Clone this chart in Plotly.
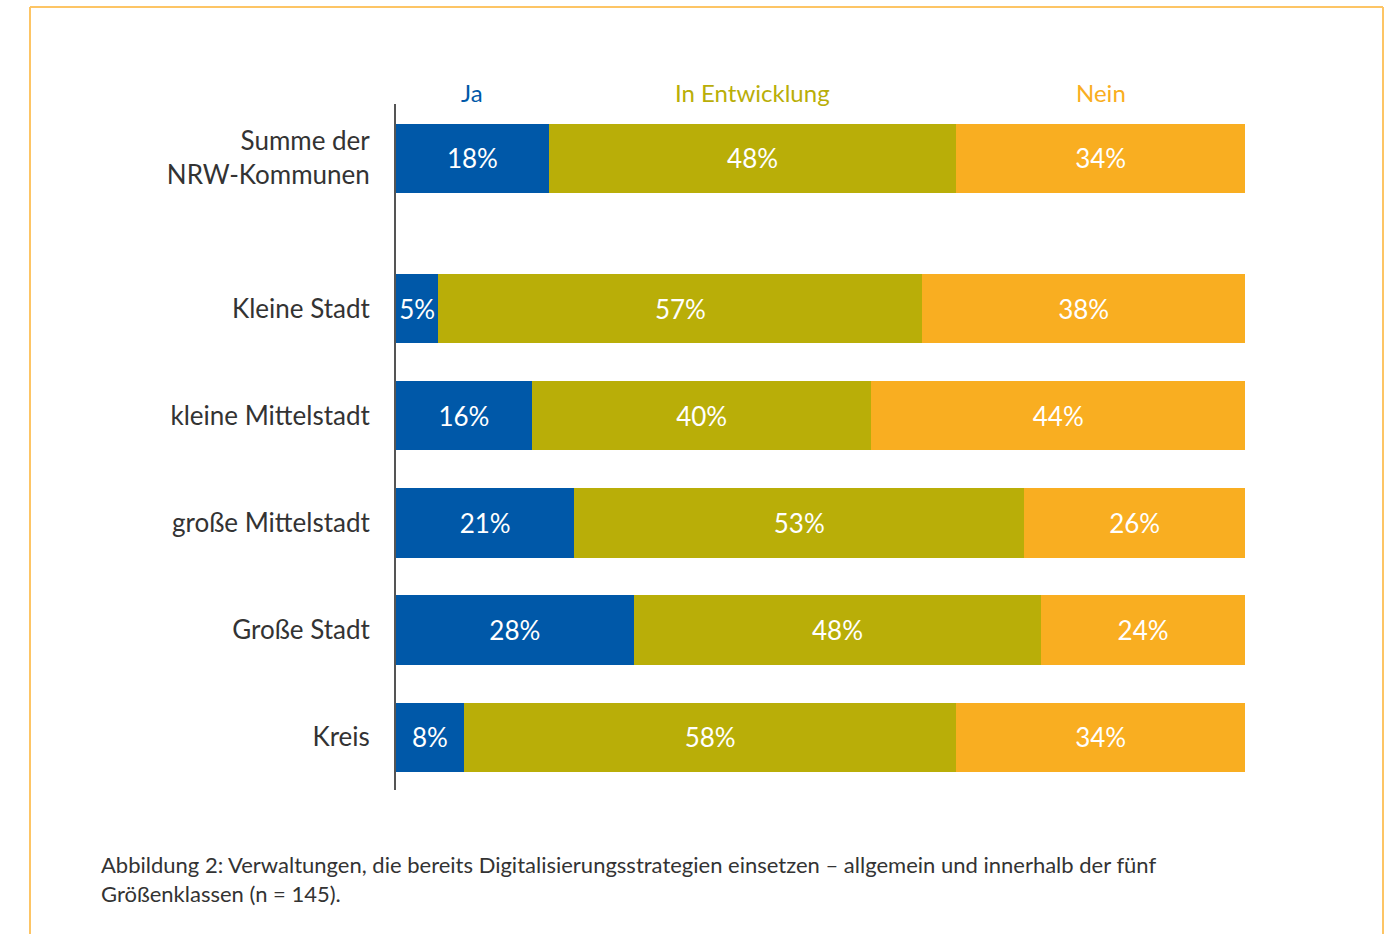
import plotly.graph_objects as go

# data
categories = ["Summe der<br>NRW-Kommunen", "Kleine Stadt", "kleine Mittelstadt",
              "große Mittelstadt", "Große Stadt", "Kreis"]
ja = [18, 5, 16, 21, 28, 8]
in_entwicklung = [48, 57, 40, 53, 48, 58]
nein = [34, 38, 44, 26, 24, 34]
series_names = ["Ja", "In Entwicklung", "Nein"]
colors = ["#0058A8", "#B9AE08", "#F9AE21"]
caption = ("Abbildung 2: Verwaltungen, die bereits Digitalisierungsstrategien einsetzen – "
           "allgemein und innerhalb der fünf<br>Größenklassen (n = 145).")

FONT = "Lato"
W, H = 1393, 934
L, R, T, B = 396, 1245, 104, 790


def px(x):
    return (x - L) / (R - L)


def py(y):
    return (B - y) / (B - T)


# first row (total) stands a bit apart from the size classes
ypos = [i + (0.41 if i > 0 else 0) for i in range(len(categories))]

fig = go.Figure()
for name, vals, col in zip(series_names, [ja, in_entwicklung, nein], colors):
    fig.add_trace(go.Bar(
        y=ypos, x=vals, name=name, orientation="h", width=0.645,
        marker=dict(color=col, line=dict(width=0)),
        text=[f"{v}%" for v in vals], textposition="inside",
        insidetextanchor="middle", constraintext="none",
        textfont=dict(color="white", size=26, family=FONT),
        hoverinfo="skip",
    ))

# series headers above the first bar, centred on its segments
start = 0
for name, vals, col in zip(series_names, [ja, in_entwicklung, nein], colors):
    fig.add_annotation(x=start + vals[0] / 2, xref="x", y=py(92), yref="paper",
                       text=name, showarrow=False, yanchor="middle",
                       font=dict(size=24, color=col, family=FONT))
    start += vals[0]

fig.add_annotation(x=px(99), xref="paper", y=py(849), yref="paper", text=caption,
                   showarrow=False, xanchor="left", yanchor="top", align="left",
                   font=dict(size=22, color="#333333", family=FONT))

# orange frame
frame = dict(color="#FDC565", width=2)
fig.add_shape(type="line", xref="paper", yref="paper", x0=px(30), x1=px(1383),
              y0=py(7), y1=py(7), line=frame)
fig.add_shape(type="line", xref="paper", yref="paper", x0=px(30), x1=px(30),
              y0=py(7), y1=py(950), line=frame)
fig.add_shape(type="line", xref="paper", yref="paper", x0=px(1383), x1=px(1383),
              y0=py(7), y1=py(950), line=frame)

fig.update_layout(
    width=W, height=H, barmode="stack", showlegend=False,
    margin=dict(l=L, r=W - R, t=T, b=H - B, pad=0),
    paper_bgcolor="white", plot_bgcolor="white",
    uniformtext=dict(minsize=24, mode="show"),
    xaxis=dict(range=[0, 100], visible=False, fixedrange=True),
    yaxis=dict(range=[ypos[-1] + 0.495, -0.505], tickvals=ypos, ticktext=categories,
               showline=True, linecolor="#555555", linewidth=2, showgrid=False,
               zeroline=False, ticks="", ticklabelstandoff=19, fixedrange=True,
               tickfont=dict(size=26, color="#333333", family=FONT)),
    font=dict(family=FONT),
)

# drop the default page margin so the figure sits at the window's top-left
fig.write_html("out.html", config={"displayModeBar": False},
               post_script="document.body.style.margin='0';")
